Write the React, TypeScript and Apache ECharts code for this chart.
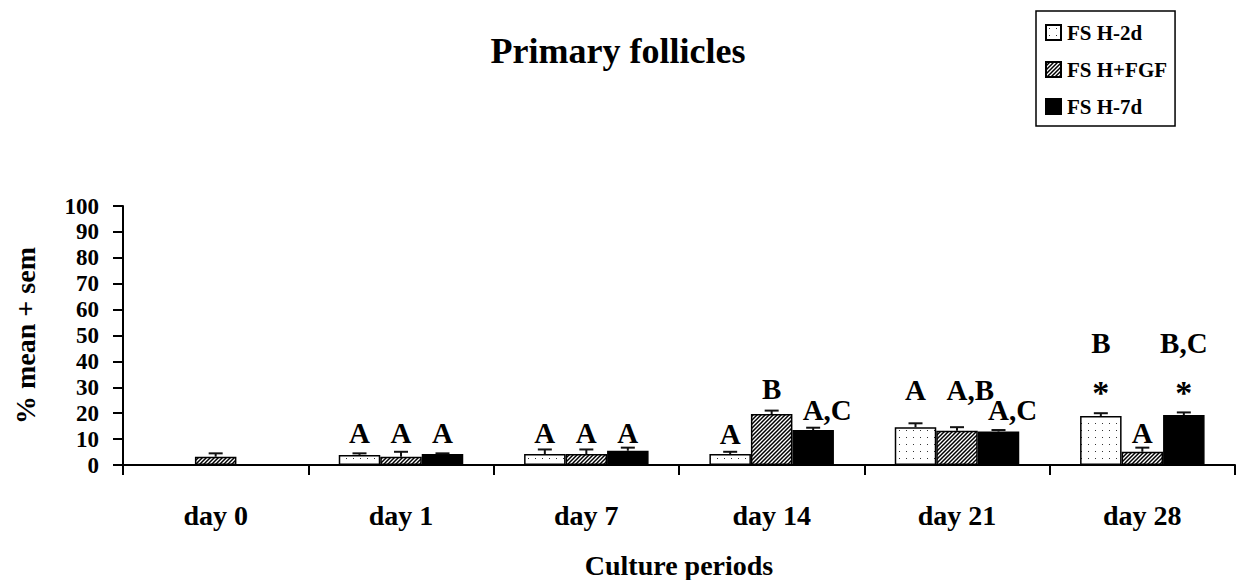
import React, { useEffect, useRef } from "react";
import * as echarts from "echarts";

// ---- data ----
const categories = ["day 0", "day 1", "day 7", "day 14", "day 21", "day 28"];
const seriesNames = ["FS H-2d", "FS H+FGF", "FS H-7d"];

const fsh2d = [null, 3.9, 4.2, 4.2, 14.6, 18.9];
const fshFgf = [3.2, 3.2, 4.2, 19.7, 13.2, 5.1];
const fsh7d = [null, 4.2, 5.5, 13.5, 12.9, 19.3];

const sem2d = [null, 0.6, 1.8, 0.9, 1.5, 1.1];
const semFgf = [1.3, 1.9, 1.8, 1.3, 1.4, 1.6];
const sem7d = [null, 0.3, 1.2, 0.9, 0.6, 1.0];

// significance letters and the height (in % units) where they sit
const sig2d = [null, "A", "A", "A", "A", "B"];
const sigY2d = [null, 12.2, 12.2, 11.9, 28.9, 47.0];
const sigFgf = [null, "A", "A", "B", "A,B", "A"];
const sigYFgf = [null, 12.2, 12.2, 29.2, 28.9, 12.5];
const sig7d = [null, "A", "A", "A,C", "A,C", "B,C"];
const sigY7d = [null, 12.2, 12.2, 21.2, 21.2, 47.0];

// asterisks (significant vs day 0)
const star2d = [null, null, null, null, null, "*"];
const starY2d = [null, null, null, null, null, 28.0];
const star7d = [null, null, null, null, null, "*"];
const starY7d = [null, null, null, null, null, 28.0];

const yTicks = [0, 10, 20, 30, 40, 50, 60, 70, 80, 90, 100];

// ---- styles ----
const FONT = "'Liberation Serif', 'Times New Roman', serif";
const BAR_W = 41.5;

function makeDots(): string {
  const c = document.createElement("canvas");
  c.width = 7;
  c.height = 7;
  const g = c.getContext("2d")!;
  g.fillStyle = "#fff";
  g.fillRect(0, 0, 7, 7);
  g.fillStyle = "#333";
  g.fillRect(3, 3, 1, 1);
  return c.toDataURL();
}

function makeHatch(): string {
  const c = document.createElement("canvas");
  c.width = 4;
  c.height = 4;
  const g = c.getContext("2d")!;
  g.fillStyle = "#fff";
  g.fillRect(0, 0, 4, 4);
  g.strokeStyle = "#000";
  g.lineWidth = 1.5;
  g.beginPath();
  g.moveTo(0, 4);
  g.lineTo(4, 0);
  g.moveTo(-1, 1);
  g.lineTo(1, -1);
  g.moveTo(3, 5);
  g.lineTo(5, 3);
  g.stroke();
  return c.toDataURL();
}

export default function App() {
  const ref = useRef<HTMLDivElement>(null);

  useEffect(() => {
    if (!ref.current) return;
    const chart = echarts.init(ref.current, undefined, { renderer: "svg" });

    const dots = { image: makeDots(), repeat: "repeat", imageWidth: 7, imageHeight: 7 };
    const hatch = { image: makeHatch(), repeat: "repeat", imageWidth: 4, imageHeight: 4 };
    const fills: any[] = [dots, hatch, "#000"];
    const values = [fsh2d, fshFgf, fsh7d];
    const sems = [sem2d, semFgf, sem7d];

    // error bar items
    const errItems: any[] = [];
    values.forEach((vals, s) => {
      vals.forEach((v, i) => {
        const e = sems[s][i];
        if (v != null && e != null) errItems.push([i, v, e, s]);
      });
    });

    // annotation items
    type Ann = { cat: number; y: number; s: number; text: string; star: boolean };
    const anns: Ann[] = [];
    const sigs = [sig2d, sigFgf, sig7d];
    const sigYs = [sigY2d, sigYFgf, sigY7d];
    sigs.forEach((arr, s) => {
      arr.forEach((t, i) => {
        const y = sigYs[s][i];
        if (t != null && y != null) anns.push({ cat: i, y, s, text: t, star: false });
      });
    });
    const stars = [star2d, null, star7d];
    const starYs = [starY2d, null, starY7d];
    stars.forEach((arr, s) => {
      if (!arr) return;
      arr.forEach((t, i) => {
        const y = (starYs[s] as any)[i];
        if (t != null && y != null) anns.push({ cat: i, y, s, text: t, star: true });
      });
    });

    const option: any = {
      animation: false,
      title: {
        text: "Primary follicles",
        left: "center",
        top: 33,
        padding: 0,
        textStyle: { fontFamily: FONT, fontSize: 36, fontWeight: "bold", color: "#000" },
      },
      legend: {
        data: seriesNames,
        orient: "vertical",
        left: 1036,
        top: 11,
        itemWidth: 15,
        itemHeight: 15,
        itemGap: 16,
        padding: [11, 8, 9, 9],
        borderColor: "#000",
        borderWidth: 1.5,
        selectedMode: false,
        icon: "rect",
        textStyle: { fontFamily: FONT, fontSize: 21, fontWeight: "bold", color: "#000", padding: [0, 0, 0, 1] },
      },
      grid: { left: 123, right: 1, top: 206, bottom: 115 },
      xAxis: {
        type: "category",
        data: categories,
        boundaryGap: true,
        name: "Culture periods",
        nameLocation: "middle",
        nameGap: 86,
        nameTextStyle: { fontFamily: FONT, fontSize: 28, fontWeight: "bold", color: "#000" },
        axisLine: { show: true, lineStyle: { color: "#000", width: 2 } },
        axisTick: { show: true, length: 10, alignWithLabel: false, lineStyle: { color: "#000", width: 2 } },
        axisLabel: { margin: 36, fontFamily: FONT, fontSize: 28, fontWeight: "bold", color: "#000" },
        splitLine: { show: false },
      },
      yAxis: {
        type: "value",
        min: yTicks[0],
        max: yTicks[yTicks.length - 1],
        interval: 10,
        name: "% mean + sem",
        nameLocation: "middle",
        nameRotate: 90,
        nameGap: 84,
        nameTextStyle: { fontFamily: FONT, fontSize: 28, fontWeight: "bold", color: "#000" },
        axisLine: { show: true, lineStyle: { color: "#000", width: 2 } },
        axisTick: { show: true, length: 10, inside: false, lineStyle: { color: "#000", width: 2 } },
        axisLabel: {
          margin: 24,
          fontFamily: FONT,
          fontSize: 23,
          lineHeight: 23,
          fontWeight: "bold",
          color: "#000",
        },
        splitLine: { show: false },
      },
      series: [
        ...values.map((vals, s) => ({
          name: seriesNames[s],
          type: "bar",
          data: vals,
          barWidth: BAR_W,
          barGap: "0%",
          itemStyle: { color: fills[s], borderColor: "#000", borderWidth: 1.5 },
          emphasis: { disabled: true },
          z: 2,
        })),
        {
          name: "sem",
          type: "custom",
          data: errItems,
          encode: { x: 0, y: 1 },
          clip: false,
          z: 3,
          silent: true,
          renderItem: (params: any, api: any) => {
            const cat = api.value(0);
            const mean = api.value(1);
            const sem = api.value(2);
            const s = api.value(3);
            const base = api.coord([cat, mean]);
            const top = api.coord([cat, mean + sem]);
            const x = base[0] + (s - 1) * BAR_W;
            const st = { stroke: "#111", lineWidth: 2 };
            return {
              type: "group",
              children: [
                { type: "line", shape: { x1: x, y1: base[1], x2: x, y2: top[1] }, style: st },
                { type: "line", shape: { x1: x - 7, y1: top[1], x2: x + 7, y2: top[1] }, style: st },
              ],
            };
          },
        },
        {
          name: "significance",
          type: "custom",
          data: anns.map((a) => [a.cat, a.y]),
          encode: { x: 0, y: 1 },
          clip: false,
          z: 4,
          silent: true,
          renderItem: (params: any, api: any) => {
            const a = anns[params.dataIndex];
            const p = api.coord([a.cat, a.y]);
            const cx = p[0] + (a.s - 1) * BAR_W;
            const leadAligned = a.text.length > 1 && a.text.startsWith("A");
            return {
              type: "text",
              style: {
                text: a.text,
                x: leadAligned ? cx - 10.5 : cx,
                y: p[1],
                align: leadAligned ? "left" : "center",
                verticalAlign: "middle",
                fontFamily: FONT,
                fontWeight: "bold",
                fontSize: a.star ? 34 : 29,
                fill: "#000",
              },
            };
          },
        },
      ],
    };

    chart.setOption(option);
    return () => chart.dispose();
  }, []);

  return (
    <div
      ref={ref}
      style={{ position: "absolute", left: 0, top: 0, width: 1236, height: 580, background: "#fff" }}
    />
  );
}
